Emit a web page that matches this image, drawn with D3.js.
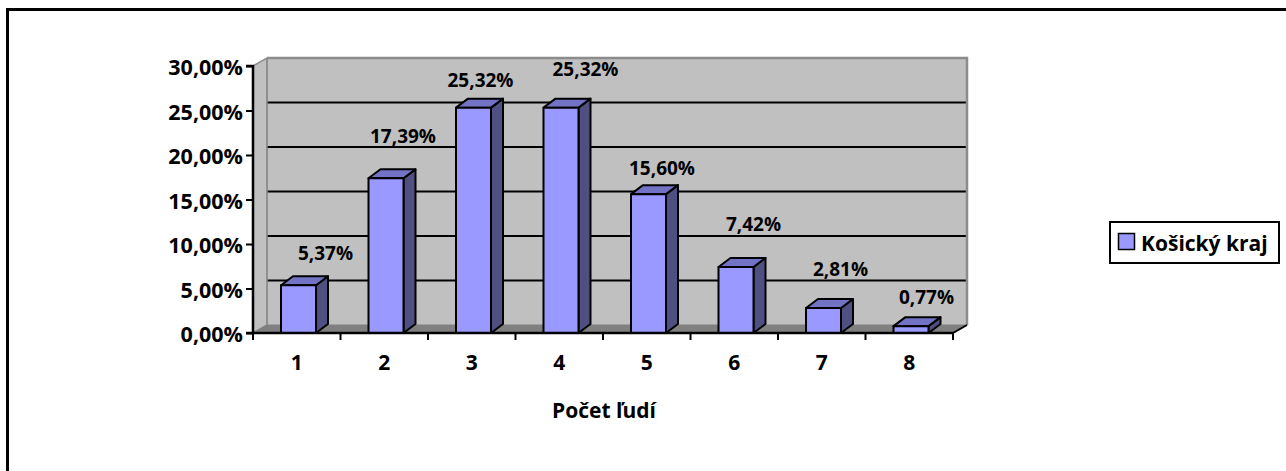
<!DOCTYPE html>
<html>
<head>
<meta charset="utf-8">
<script src="https://cdn.jsdelivr.net/npm/d3@7"></script>
<style>
  html, body { margin: 0; padding: 0; background: #fff; }
  svg { display: block; }
  text { font-family: "Open Sans", "Noto Sans", sans-serif; font-weight: 700; fill: #000; }
</style>
</head>
<body>
<svg id="chart" width="1286" height="471"></svg>
<script>
// ---- data ----
const categories = ["1", "2", "3", "4", "5", "6", "7", "8"];
const values = [5.37, 17.39, 25.32, 25.32, 15.60, 7.42, 2.81, 0.77];
const yTicks = [0, 5, 10, 15, 20, 25, 30];
const seriesName = "Košický kraj";
const xTitle = "Počet ľudí";

// ---- layout (styling only) ----
const W = 1286, H = 471;
const plot = { left: 253, right: 953, top: 66, bottom: 333 };
const depth = { dx: 14, dy: -8 };
const barDepth = { dx: 12, dy: -9 };
// per-label nudges mimicking Excel's 3D label placement
const labelNudge = [[27, -32], [17, -42], [7, -28], [24.5, -39], [13.5, -26], [17.5, -43], [17, -39], [15.5, -29]];

const fmt = v => d3.format(".2f")(v).replace(".", ",") + "%";

const svg = d3.select("#chart");

// outer frame (clipped on right/bottom like the reference)
svg.append("rect")
  .attr("x", 7.5).attr("y", 9.5)
  .attr("width", W + 20).attr("height", H + 20)
  .attr("fill", "none").attr("stroke", "#000").attr("stroke-width", 3);

const x = d3.scaleBand().domain(categories).range([plot.left, plot.right]).paddingInner(0).paddingOuter(0);
const y = d3.scaleLinear().domain([0, 30]).range([plot.bottom, plot.top]);

const L = plot.left, R = plot.right, T = plot.top, B = plot.bottom;
const dx = depth.dx, dy = depth.dy;

// back wall
svg.append("polygon")
  .attr("points", [[L + dx, T + dy], [R + dx, T + dy], [R + dx, B + dy], [L + dx, B + dy]].map(p => p.join(",")).join(" "))
  .attr("fill", "#c0c0c0");
// side wall
svg.append("polygon")
  .attr("points", [[L, T], [L + dx, T + dy], [L + dx, B + dy], [L, B]].map(p => p.join(",")).join(" "))
  .attr("fill", "#c0c0c0").attr("stroke", "#8c8c8c").attr("stroke-width", 1.5);
// floor
svg.append("polygon")
  .attr("points", [[L, B], [L + dx, B + dy], [R + dx, B + dy], [R, B]].map(p => p.join(",")).join(" "))
  .attr("fill", "#808080").attr("stroke", "#808080").attr("stroke-width", 1);

// gridlines on back wall
svg.append("g").selectAll("line").data(yTicks.filter(t => t > 0 && t < 30)).join("line")
  .attr("x1", L + dx).attr("x2", R + dx)
  .attr("y1", d => y(d) + dy).attr("y2", d => y(d) + dy)
  .attr("stroke", "#000").attr("stroke-width", 2);

// back wall border (top, right)
svg.append("path")
  .attr("d", `M${L + dx},${T + dy} L${R + dx},${T + dy} L${R + dx},${B + dy}`)
  .attr("fill", "none").attr("stroke", "#8c8c8c").attr("stroke-width", 2.5);
// left wall inner edge
svg.append("line")
  .attr("x1", L + dx).attr("x2", L + dx).attr("y1", T + dy).attr("y2", B + dy)
  .attr("stroke", "#8c8c8c").attr("stroke-width", 1.5);
svg.append("line")
  .attr("x1", R).attr("x2", R + dx).attr("y1", B).attr("y2", B + dy)
  .attr("stroke", "#000").attr("stroke-width", 2);

// bars
const bw = x.bandwidth();
const barOff = 28, barW = 35;
const bars = svg.append("g");
categories.forEach((c, i) => {
  const v = values[i];
  const x0 = x(c) + barOff, x1 = x0 + barW;
  const yt = y(v), yb = B;
  const bdx = barDepth.dx, bdy = barDepth.dy;
  const g = bars.append("g").attr("stroke", "#000").attr("stroke-width", 2).attr("stroke-linejoin", "round");
  // side
  g.append("polygon")
    .attr("points", [[x1, yt], [x1 + bdx, yt + bdy], [x1 + bdx, yb + bdy], [x1, yb]].map(p => p.join(",")).join(" "))
    .attr("fill", "#4f4f82");
  // top
  g.append("polygon")
    .attr("points", [[x0, yt], [x0 + bdx, yt + bdy], [x1 + bdx, yt + bdy], [x1, yt]].map(p => p.join(",")).join(" "))
    .attr("fill", "#7373c6");
  // front
  g.append("rect")
    .attr("x", x0).attr("y", yt).attr("width", barW).attr("height", yb - yt)
    .attr("fill", "#9999ff");
});

// data labels
svg.append("g").selectAll("text").data(values).join("text")
  .attr("x", (d, i) => x(categories[i]) + barOff + barW / 2 + labelNudge[i][0])
  .attr("y", (d, i) => y(d) + labelNudge[i][1])
  .attr("text-anchor", "middle").attr("dominant-baseline", "central")
  .attr("font-size", 19)
  .text(d => fmt(d));

// y axis
const yAxis = d3.axisLeft(y).tickValues(yTicks).tickSize(7).tickPadding(3).tickFormat(d => fmt(d));
const gy = svg.append("g").attr("transform", `translate(${L},0)`).call(yAxis);
gy.select(".domain").attr("stroke", "#000").attr("stroke-width", 2.5).attr("d", `M-7,${T}H0V${B}H-7`);
gy.selectAll(".tick line").attr("stroke", "#000").attr("stroke-width", 2);
gy.selectAll(".tick text").attr("font-size", 21.5).attr("font-family", null).attr("font-weight", null).attr("fill", "#000")
  .attr("dy", null).attr("dominant-baseline", "central");

// x axis
const xAxis = d3.axisBottom(x).tickSize(0).tickPadding(0);
const gx = svg.append("g").attr("transform", `translate(0,${B})`).call(xAxis);
gx.select(".domain").attr("stroke", "#000").attr("stroke-width", 2.5).attr("d", `M${L},0H${R}`);
gx.selectAll(".tick text").attr("font-size", 21).attr("font-family", null).attr("font-weight", null).attr("fill", "#000")
  .attr("dy", null).attr("y", 29).attr("dominant-baseline", "central");
// category boundary ticks
svg.append("g").selectAll("line").data(d3.range(categories.length + 1)).join("line")
  .attr("x1", i => L + i * bw).attr("x2", i => L + i * bw)
  .attr("y1", B).attr("y2", B + 7)
  .attr("stroke", "#000").attr("stroke-width", 2);

// x title
svg.append("text")
  .attr("x", 604).attr("y", 418)
  .attr("text-anchor", "middle").attr("font-size", 21)
  .text(xTitle);

// legend
const lg = svg.append("g");
lg.append("rect").attr("x", 1110).attr("y", 222).attr("width", 169).attr("height", 41)
  .attr("fill", "#fff").attr("stroke", "#000").attr("stroke-width", 2);
lg.append("rect").attr("x", 1118.5).attr("y", 233.5).attr("width", 16).attr("height", 16)
  .attr("fill", "#9999ff").attr("stroke", "#000").attr("stroke-width", 1.5);
lg.append("text").attr("x", 1141).attr("y", 242.5).attr("dominant-baseline", "central")
  .attr("font-size", 21).text(seriesName);
</script>
</body>
</html>
